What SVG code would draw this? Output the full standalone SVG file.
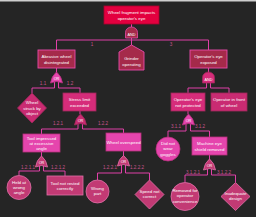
<svg xmlns="http://www.w3.org/2000/svg" width="256" height="217" viewBox="0 0 256 217">
<style>
text{font-family:"Liberation Sans",Arial,sans-serif;text-anchor:middle}
.t{fill:#ffffff;font-size:4.4px}
.lb{fill:#c8548e;font-size:4.6px}
.c{fill:none;stroke:#e040a8;stroke-width:1}
.top{fill:#e3003f;stroke:#a8002e;stroke-width:0.8}
.dk{fill:#a52a4a;stroke:#ea4aaa;stroke-width:0.9}
.md{fill:#d62c7a;stroke:#a0285a;stroke-width:0.8}
.md2{fill:#c92b72;stroke:#a0285a;stroke-width:0.8}
.br{fill:#e545ad;stroke:#b8307c;stroke-width:0.8}
.lf{fill:#c23a74;stroke:#e070a8;stroke-width:0.8}
.g{stroke-width:0.8}
</style>
<rect x="0" y="0" width="256" height="217" fill="#252525"/>
<rect x="0" y="0" width="256" height="1.5" fill="#cfcfcf"/>
<g id="connectors">
<path class="c" d="M131.5,24V27M131.5,38V45"/>
<path class="c" d="M56.5,50V40H208.5V50"/>
<path class="c" d="M56.5,68V72M54.5,82V88H32V93M58.5,82V88H80V93"/>
<path class="c" d="M80,111V114M78,124V129H41.5V134M82.5,124V129H123.5V133"/>
<path class="c" d="M41.5,152V156M39.5,166V171H19V175.5M43.5,166V171H65V176"/>
<path class="c" d="M123.5,151V156M121.5,165V173H97.5V180M125.5,165V173H149.5V180"/>
<path class="c" d="M208.5,68V72M206.5,82V88H188V93M210.5,82V88H229V93"/>
<path class="c" d="M188,111V114M186,124V131H168V137M190.5,124V131H209.5V137"/>
<path class="c" d="M209.5,155V159M207.5,169V175H185V182.5M211.5,169V175H235.5V182.5"/>
</g>
<g id="labels">
<text class="lb" x="92" y="45.5">1</text>
<text class="lb" x="171" y="45.5">3</text>
<text class="lb" x="43" y="84.5">1.1</text>
<text class="lb" x="70" y="84.5">1.2</text>
<text class="lb" x="58" y="125">1.2.1</text>
<text class="lb" x="103" y="125">1.2.2</text>
<text class="lb" x="28" y="168.5">1.2.1.1</text>
<text class="lb" x="58" y="168.5">1.2.1.2</text>
<text class="lb" x="110" y="168.5">1.2.2.1</text>
<text class="lb" x="137" y="168.5">1.2.2.2</text>
<text class="lb" x="176" y="128">3.1.1</text>
<text class="lb" x="200" y="128">3.1.2</text>
<text class="lb" x="193" y="173.5">3.1.2.1</text>
<text class="lb" x="224" y="173.5">3.1.2.2</text>
</g>
<g id="top">
<rect class="top" x="104" y="6" width="55" height="18"/>
<text class="t" x="131.5" y="14">Wheel fragment impacts</text>
<text class="t" x="131.5" y="19.5">operator's eye</text>
</g>
<g id="gate0">
<path class="dk g" d="M125.5,38V32.5A6,5.5 0 0 1 137.5,32.5V38Z"/>
<text class="t" x="131.5" y="35.8" style="font-size:3.8px">AND</text>
</g>
<g id="n1">
<rect class="dk" x="38" y="50" width="37" height="18"/>
<text class="t" x="56.5" y="58">Abrasive wheel</text>
<text class="t" x="56.5" y="63.5">disintegrated</text>
</g>
<g id="n2">
<path class="dk" d="M119,52L131.5,45L144,52V70H119Z"/>
<text class="t" x="131.5" y="60">Grinder</text>
<text class="t" x="131.5" y="65.5">operating</text>
</g>
<g id="n3">
<rect class="dk" x="190" y="50" width="37" height="18"/>
<text class="t" x="208.5" y="58">Operator's eye</text>
<text class="t" x="208.5" y="63.5">exposed</text>
</g>
<g id="gate1">
<path class="br g" d="M50.5,83Q51.5,76 56.5,72Q61.5,76 62.5,83Q56.5,80 50.5,83Z"/>
<text class="t" x="56.5" y="80" style="font-size:3.8px">OR</text>
</g>
<g id="gate3">
<path class="md g" d="M202.5,83V77.5A6,5.5 0 0 1 214.5,77.5V83Z"/>
<text class="t" x="208.5" y="80.8" style="font-size:3.8px">AND</text>
</g>
<g id="n11">
<path class="md2" d="M32,93L46.5,108L32,123L17.5,108Z"/>
<text class="t" x="32" y="104">Wheel</text>
<text class="t" x="32" y="109.5">struck by</text>
<text class="t" x="32" y="115">object</text>
</g>
<g id="n12">
<rect class="md" x="63" y="93" width="33" height="18"/>
<text class="t" x="79.5" y="101">Stress limit</text>
<text class="t" x="79.5" y="106.5">exceeded</text>
</g>
<g id="n31">
<rect class="md" x="171" y="93" width="34" height="18"/>
<text class="t" x="188" y="101">Operator's eye</text>
<text class="t" x="188" y="106.5">not protected</text>
</g>
<g id="n32">
<rect class="md2" x="211" y="93" width="36" height="18"/>
<text class="t" x="229" y="101">Operator in front</text>
<text class="t" x="229" y="106.5">of wheel</text>
</g>
<g id="gate2">
<path class="md2 g" d="M74.5,125Q75.5,118 80.5,114Q85.5,118 86.5,125Q80.5,122 74.5,125Z"/>
<text class="t" x="80.5" y="122" style="font-size:3.8px">OR</text>
</g>
<g id="gate6">
<path class="br g" d="M182.5,125Q183.5,118 188.5,114Q193.5,118 194.5,125Q188.5,122 182.5,125Z"/>
<text class="t" x="188.5" y="122" style="font-size:3.8px">OR</text>
</g>
<g id="n121">
<rect class="br" x="23" y="134" width="37" height="18"/>
<text class="t" x="41.5" y="139.5">Tool impressed</text>
<text class="t" x="41.5" y="144.5">at excessive</text>
<text class="t" x="41.5" y="149.5">angle</text>
</g>
<g id="n122">
<rect class="br" x="106" y="133" width="35" height="18"/>
<text class="t" x="123.5" y="143.5">Wheel overspeed</text>
</g>
<g id="n311">
<circle class="br" cx="168" cy="149" r="12"/>
<text class="t" x="168" y="145">Did not</text>
<text class="t" x="168" y="150.3">wear</text>
<text class="t" x="168" y="155.6">goggles</text>
</g>
<g id="n312">
<rect class="br" x="192" y="137" width="35" height="18"/>
<text class="t" x="209.5" y="145">Machine eye</text>
<text class="t" x="209.5" y="150.5">shield removed</text>
</g>
<g id="gate4">
<path class="lf g" d="M35.5,167Q36.5,160 41.5,156Q46.5,160 47.5,167Q41.5,164 35.5,167Z"/>
<text class="t" x="41.5" y="164" style="font-size:3.8px">OR</text>
</g>
<g id="gate5">
<path class="lf g" d="M117.5,166Q118.5,159 123.5,155.5Q128.5,159 129.5,166Q123.5,163 117.5,166Z"/>
<text class="t" x="123.5" y="163" style="font-size:3.8px">OR</text>
</g>
<g id="gate7">
<path class="lf g" d="M203.5,170Q204.5,163 209.5,159Q214.5,163 215.5,170Q209.5,167 203.5,170Z"/>
<text class="t" x="209.5" y="167" style="font-size:3.8px">OR</text>
</g>
<g id="n1211">
<circle class="lf" cx="19" cy="187.5" r="12"/>
<text class="t" x="19" y="183.5">Held at</text>
<text class="t" x="19" y="188.8">wrong</text>
<text class="t" x="19" y="194.1">angle</text>
</g>
<g id="n1212">
<rect class="lf" x="47" y="176" width="36" height="19"/>
<text class="t" x="65" y="184.5">Tool not rested</text>
<text class="t" x="65" y="190">correctly</text>
</g>
<g id="n1221">
<circle class="lf" cx="97.5" cy="191.5" r="11.5"/>
<text class="t" x="97.5" y="190">Wrong</text>
<text class="t" x="97.5" y="195.3">part</text>
</g>
<g id="n1222">
<path class="lf" d="M149.5,180L164,194.5L149.5,209L135,194.5Z"/>
<text class="t" x="149.5" y="193">Speed not</text>
<text class="t" x="149.5" y="198.3">correct</text>
</g>
<g id="n3121">
<circle class="lf" cx="185" cy="196.5" r="14"/>
<text class="t" x="185" y="192">Removed for</text>
<text class="t" x="185" y="197.3">operator</text>
<text class="t" x="185" y="202.6">convenience</text>
</g>
<g id="n3122">
<path class="lf" d="M235.5,182.5L250,196.5L235.5,210.5L221,196.5Z"/>
<text class="t" x="235.5" y="195">Inadequate</text>
<text class="t" x="235.5" y="200.3">design</text>
</g>
</svg>
